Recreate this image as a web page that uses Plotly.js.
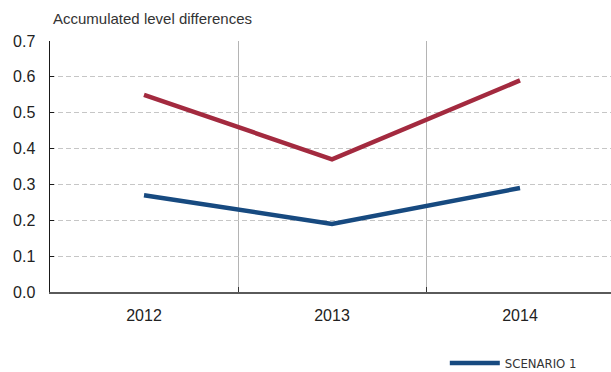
<!DOCTYPE html>
<html><head><meta charset="utf-8">
<script src="https://cdn.plot.ly/plotly-3.0.1.min.js"></script>
<style>body{margin:0;padding:0;background:#fff}#chart{width:611px;height:372px}</style>
</head><body><div id="chart"></div>
<script>
var years = ['2012', '2013', '2014'];
var scenario1 = [0.27, 0.19, 0.29];
var scenario2 = [0.55, 0.37, 0.59];
var yTicks = [0, 0.1, 0.2, 0.3, 0.4, 0.5, 0.6, 0.7];
var yTickText = ['0.0', '0.1', '0.2', '0.3', '0.4', '0.5', '0.6', '0.7'];

var font = 'Liberation Sans, Arial, sans-serif';
var data = [
  {x: years, y: scenario1, type: 'scatter', mode: 'lines', name: 'SCENARIO 1',
   line: {color: '#174a80', width: 4.5}, showlegend: true},
  {x: years, y: scenario2, type: 'scatter', mode: 'lines', name: 'SCENARIO 2',
   line: {color: '#a32a3f', width: 4.5}, showlegend: false}
];
var layout = {
  width: 611, height: 372,
  margin: {l: 50, r: 0, t: 41, b: 80, autoexpand: false},
  paper_bgcolor: '#fff', plot_bgcolor: '#fff',
  font: {family: font, color: '#222', size: 16},
  xaxis: {type: 'category', range: [-0.5, 2.484], tickson: 'boundaries',
    showgrid: true, gridcolor: '#b4b4b4', gridwidth: 1,
    showline: true, linecolor: '#5a5a5a', linewidth: 2,
    ticks: 'inside', ticklen: 5, tickcolor: '#333', ticklabelstandoff: 8,
    tickfont: {size: 16, color: '#222'}, zeroline: false, fixedrange: true},
  yaxis: {range: [0, 0.7], tickvals: yTicks, ticktext: yTickText,
    showgrid: true, gridcolor: '#c6c6c6', griddash: '5px,3px', gridwidth: 1,
    showline: true, linecolor: '#1a1a1a', linewidth: 1.5,
    ticks: 'inside', ticklen: 4, tickcolor: '#1a1a1a', ticklabelstandoff: 10,
    tickfont: {size: 16, color: '#222'}, zeroline: false, fixedrange: true},
  showlegend: true,
  legend: {orientation: 'h', xref: 'container', yref: 'container',
    x: 0.728, xanchor: 'left', y: 0.024, yanchor: 'middle', itemwidth: 50,
    font: {size: 13, color: '#333', stretch: 'condensed',
      family: 'Liberation Sans Narrow, DejaVu Sans Condensed, Arial Narrow, sans-serif'},
    bgcolor: 'rgba(0,0,0,0)'},
  annotations: [{text: 'Accumulated level differences', xref: 'paper', yref: 'paper',
    x: 0, y: 1, xshift: 1, yshift: 12, xanchor: 'left', yanchor: 'bottom', showarrow: false,
    font: {size: 15, color: '#333', family: font}}]
};
Plotly.newPlot('chart', data, layout, {displayModeBar: false, staticPlot: true});
</script></body></html>
